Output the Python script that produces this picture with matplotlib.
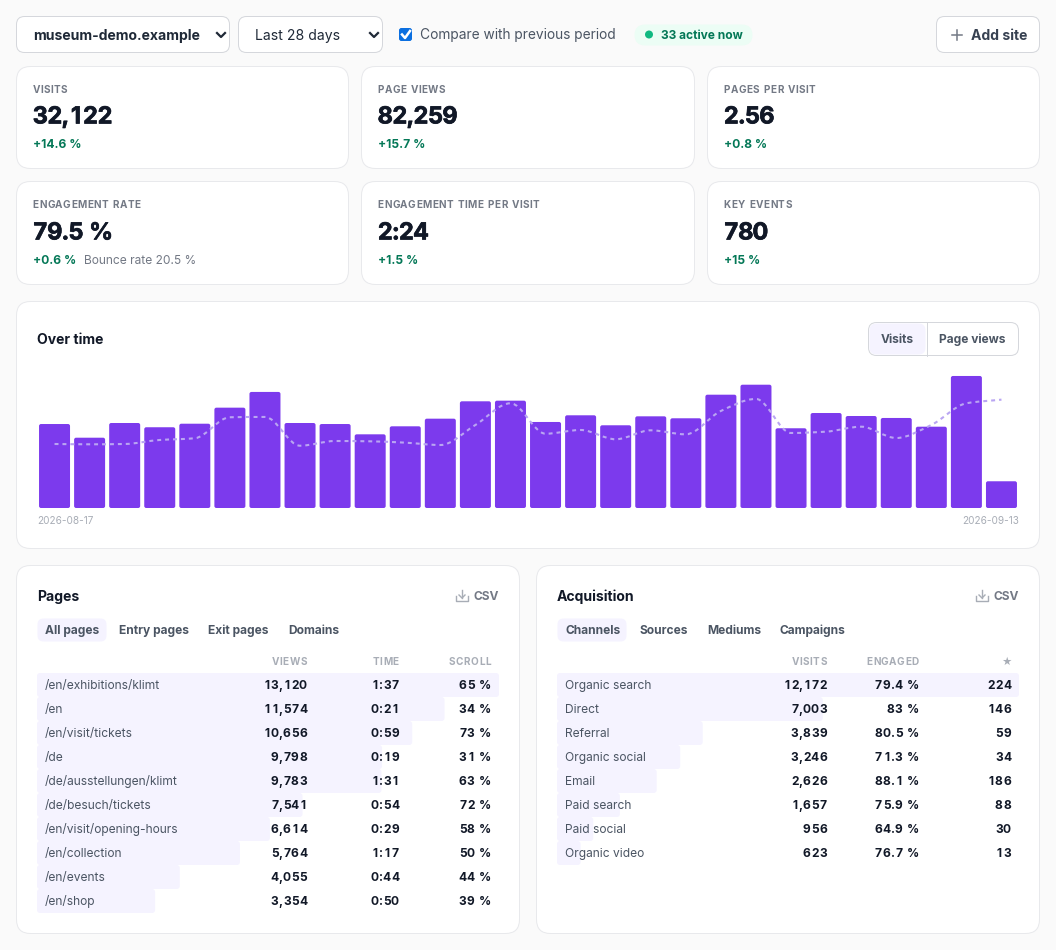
import numpy as np
import matplotlib
matplotlib.use('Agg')
import matplotlib.pyplot as plt
import matplotlib.patheffects as pe
from matplotlib.font_manager import FontProperties, findfont, get_font
from matplotlib.patches import FancyBboxPatch, Circle, PathPatch
from matplotlib.path import Path

plt.rcParams['font.family'] = ['Inter', 'DejaVu Sans']

W, H = 1056, 950

# kpi cards
kpi_labels = ['VISITS', 'PAGE VIEWS', 'PAGES PER VISIT', 'ENGAGEMENT RATE', 'ENGAGEMENT TIME PER VISIT', 'KEY EVENTS']
kpi_values = ['32,122', '82,259', '2.56', '79.5 %', '2:24', '780']
kpi_deltas = ['+14.6 %', '+15.7 %', '+0.8 %', '+0.6 %', '+1.5 %', '+15 %']

# over time
visits = [1068, 894, 1081, 1027, 1072, 1276, 1476, 1081, 1068, 937, 1039, 1136, 1357, 1365,
          1094, 1179, 1052, 1166, 1141, 1441, 1568, 1014, 1208, 1170, 1145, 1034, 1679, 340]
previous = [814, 810, 814, 865, 887, 1154, 1158, 792, 852, 848, 831, 801, 1056, 1332,
            945, 992, 874, 988, 937, 1234, 1387, 954, 971, 1034, 890, 1056, 1332, 1378]

# pages table
pages = ['/en/exhibitions/klimt', '/en', '/en/visit/tickets', '/de', '/de/ausstellungen/klimt',
         '/de/besuch/tickets', '/en/visit/opening-hours', '/en/collection', '/en/events', '/en/shop']
page_views = [13120, 11574, 10656, 9798, 9783, 7541, 6614, 5764, 4055, 3354]
page_time = ['1:37', '0:21', '0:59', '0:19', '1:31', '0:54', '0:29', '1:17', '0:44', '0:50']
page_scroll = ['65 %', '34 %', '73 %', '31 %', '63 %', '72 %', '58 %', '50 %', '44 %', '39 %']

# acquisition table
channels = ['Organic search', 'Direct', 'Referral', 'Organic social', 'Email', 'Paid search', 'Paid social', 'Organic video']
channel_visits = [12172, 7003, 3839, 3246, 2626, 1657, 956, 623]
channel_engaged = ['79.4 %', '83 %', '80.5 %', '71.3 %', '88.1 %', '75.9 %', '64.9 %', '76.7 %']
channel_events = [224, 146, 59, 34, 186, 88, 30, 13]

INK = '#111827'
GRAY = '#4b5563'
MUTED = '#737985'
FAINT = '#a8adb6'
GREEN = '#047857'
PURPLE = '#7c3aed'
LILAC = '#f5f3ff'
BORDER = '#e8e9ec'
BTN_BORDER = '#d5d7dc'

fig = plt.figure(figsize=(W / 100, H / 100), dpi=100, facecolor='#fafafa')


def px_axes(x0, y0, x1, y1, z):
    ax = fig.add_axes([x0 / W, 1 - y1 / H, (x1 - x0) / W, (y1 - y0) / H], zorder=z)
    ax.set_facecolor('none')
    ax.axis('off')
    return ax


back = px_axes(0, 0, W, H, 0)
back.set_xlim(0, W)
back.set_ylim(H, 0)
front = px_axes(0, 0, W, H, 10)
front.set_xlim(0, W)
front.set_ylim(H, 0)


def box(ax, x0, y0, x1, y1, r=12, fc='white', ec=BORDER, lw=0.72):
    ax.add_patch(FancyBboxPatch((x0 + 0.5, y0 + 0.5), x1 - x0 - 1, y1 - y0 - 1,
                                boxstyle=f'round,pad=0,rounding_size={r}', fc=fc, ec=ec, lw=lw))


def txt(x, y, s, size=14, weight='normal', color=INK, ha='left', **kw):
    # size is in css pixels, y is the middle of the capitals
    return front.text(x, y + 0.36 * size, s, fontsize=size * 0.72, fontweight=weight, color=color,
                      ha=ha, va='baseline', **kw)


def advance(c, size, weight):
    font = get_font(findfont(FontProperties(family='Inter', weight=weight)))
    font.set_size(size, 72)
    return font.load_char(ord(c), flags=matplotlib.ft2font.LoadFlags.NO_HINTING).linearHoriAdvance / 65536


def spaced(x, y, s, size, weight, color, ha='left', track=0.0, tabular=False, **kw):
    # letter spacing and tabular digits, which matplotlib text cannot do
    cells = []
    for c in s:
        a = advance('0' if tabular and c.isdigit() else c, size, weight)
        cells.append(a + track + (0.1 * size if c == ' ' else 0))
    left = x - sum(cells) if ha == 'right' else x
    for c, w in zip(s, cells):
        if c != ' ':
            txt(left + w / 2, y, c, size, weight, color, ha='center', **kw)
        left += w


# top bar
box(back, 16, 16, 230, 53, r=8, ec=BTN_BORDER)
txt(33, 34.5, 'museum-demo.example', 14, 'bold', '#1f2937')
box(back, 238, 16, 383, 53, r=8, ec=BTN_BORDER)
txt(255, 34.5, 'Last 28 days', 14, 'normal', '#1f2937')
for cx in (221, 374):
    front.plot([cx - 4, cx, cx + 4], [33, 37, 33], color='#1f2937', lw=1.6)
box(back, 399, 28, 412, 41, r=2, fc='#0b6fe0', ec='#0b6fe0')
front.plot([402, 405, 410], [34.5, 38, 31], color='white', lw=1.8)
txt(420, 34.5, 'Compare with previous period', 13.75, 'normal', GRAY)
box(back, 634, 24, 753, 46, r=10.5, fc='#ecfdf5', ec='none')
front.add_patch(Circle((649, 34.5), 4, fc='#10b981', ec='none'))
txt(661, 34.5, '33 active now', 12, 'bold', GREEN)
box(back, 936, 16, 1040, 53, r=8, ec=BTN_BORDER)
front.plot([952, 962], [35, 35], color=MUTED, lw=1.1)
front.plot([957, 957], [30, 40], color=MUTED, lw=1.1)
txt(1027, 34.5, 'Add site', 14, 'bold', '#374151', ha='right')

# kpi cards
card_x = [(16, 349), (361, 695), (707, 1040)]
card_y = [(66, 169), (181, 285)]
label_y = [89, 204]
value_y = [115, 231]
delta_y = [143.5, 259.5]
for i in range(6):
    x0, x1 = card_x[i % 3]
    y0, y1 = card_y[i // 3]
    box(back, x0, y0, x1, y1, r=14)
    spaced(x0 + 16.5, label_y[i // 3], kpi_labels[i], 10, 'bold', MUTED, track=0.4)
    spaced(x0 + 17, value_y[i // 3], kpi_values[i], 23.5, 'bold', INK, track=-1.3, tabular=True,
           path_effects=[pe.withStroke(linewidth=0.5, foreground=INK)])
    txt(x0 + 17, delta_y[i // 3], kpi_deltas[i], 12, 'bold', GREEN)
txt(84, 259.5, 'Bounce rate 20.5 %', 12, 'normal', MUTED)

# over time panel
box(back, 16, 301, 1040, 549, r=14)
txt(37, 339, 'Over time', 14, 'bold', INK)
box(back, 868, 322, 1019, 356, r=8, ec=BTN_BORDER)
box(back, 869, 323, 926, 355, r=7, fc=LILAC, ec='none')
back.plot([926.5, 926.5], [322, 356], color=BTN_BORDER, lw=0.72)
txt(897, 339, 'Visits', 12, 'bold', GRAY, ha='center')
txt(972.5, 339, 'Page views', 12, 'bold', GRAY, ha='center')
txt(37, 520, '2026-08-17', 10, 'normal', FAINT)
txt(1019, 520, '2026-09-13', 10, 'normal', FAINT, ha='right')

# bars and previous period line
chart = px_axes(37, 370, 1019, 508, 5)
chart.set_xlim(-0.5, 27.5)
chart.set_ylim(0, 1755)
days = np.arange(len(visits))
bar_w = 31 / 35.07
aspect = 35.07 / (138 / 1755)
for d, v in zip(days, visits):
    chart.add_patch(FancyBboxPatch((d - bar_w / 2, 0), bar_w, v, boxstyle=f'round,pad=0,rounding_size={2 / 35.07}',
                                   mutation_aspect=aspect, fc=PURPLE, ec='none'))


def monotone_path(xs, ys):
    # same curve as a monotone-x line in d3
    xs = np.asarray(xs, float)
    ys = np.asarray(ys, float)
    s = np.diff(ys) / np.diff(xs)
    t = np.zeros(len(xs))
    t[0], t[-1] = s[0], s[-1]
    for i in range(1, len(xs) - 1):
        if s[i - 1] * s[i] > 0:
            t[i] = 2 * s[i - 1] * s[i] / (s[i - 1] + s[i])
    verts = [(xs[0], ys[0])]
    codes = [Path.MOVETO]
    for i in range(len(xs) - 1):
        h = (xs[i + 1] - xs[i]) / 3
        verts += [(xs[i] + h, ys[i] + t[i] * h), (xs[i + 1] - h, ys[i + 1] - t[i + 1] * h), (xs[i + 1], ys[i + 1])]
        codes += [Path.CURVE4] * 3
    return Path(verts, codes)


chart.add_patch(PathPatch(monotone_path(days, previous), fc='none', ec='#b9a5f2', lw=1.5, linestyle=(0, (1.9, 1.9))))


def table(x0, x1, title, tabs, tab_x, pill_x1, headers, names, values, col2, col3):
    box(back, x0 - 21, 565, x1 + 21, 934, r=14)
    txt(x0, 596, title, 14, 'bold', INK)
    # csv link
    ix = x1 - 37
    front.plot([ix - 6, ix - 6, ix + 6, ix + 6], [596, 601, 601, 596], color=FAINT, lw=1)
    front.plot([ix, ix], [590, 598], color=FAINT, lw=1)
    front.plot([ix - 3, ix, ix + 3], [595, 598, 595], color=FAINT, lw=1)
    txt(x1, 595.5, 'CSV', 12, 'bold', MUTED, ha='right')
    # tabs
    box(back, x0, 618, pill_x1, 642, r=6, fc=LILAC, ec='none')
    for t, tx in zip(tabs, tab_x):
        txt(x0 + tx, 630, t, 12, 'bold', GRAY)
    # header row
    cols = [x1 - 192, x1 - 100, x1 - 8]
    for c, h in zip(cols, headers):
        if h == '★':
            txt(c, 661, h, 10, 'bold', FAINT, ha='right')
        else:
            spaced(c, 661, h, 10, 'bold', FAINT, ha='right', track=0.5)
    # bars behind the rows
    n = len(names)
    ax = px_axes(x0, 673, x1, 673 + 24 * n, 5)
    ax.set_xlim(0, max(values))
    ax.set_ylim(n - 0.5, -0.5)
    x_px = (x1 - x0) / max(values)
    for i, v in enumerate(values):
        ax.add_patch(FancyBboxPatch((0, i - 0.5), v, 1, boxstyle=f'round,pad=0,rounding_size={3 / x_px}',
                                    mutation_aspect=x_px / 24, fc=LILAC, ec='none'))
    for i in range(n):
        y = 685 + 24 * i
        txt(x0 + 8, y, names[i], 12, 'normal', GRAY)
        spaced(cols[0], y, f'{values[i]:,}', 12, 'bold', INK, ha='right', tabular=True)
        spaced(cols[1], y, col2[i], 12, 'bold', INK, ha='right', tabular=True)
        spaced(cols[2], y, str(col3[i]), 12, 'bold', INK, ha='right', tabular=True)


table(37, 499, 'Pages', ['All pages', 'Entry pages', 'Exit pages', 'Domains'], [8, 82, 171, 251], 107,
      ['VIEWS', 'TIME', 'SCROLL'], pages, page_views, page_time, page_scroll)
table(557, 1019, 'Acquisition', ['Channels', 'Sources', 'Mediums', 'Campaigns'], [8, 82, 150, 223], 627,
      ['VISITS', 'ENGAGED', '★'], channels, channel_visits, channel_engaged, channel_events)

fig.savefig('out.png', dpi=100, facecolor=fig.get_facecolor())
